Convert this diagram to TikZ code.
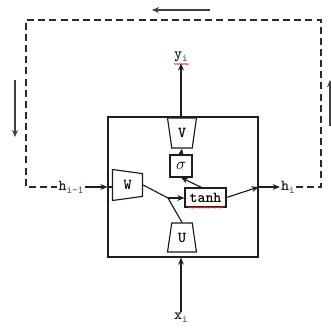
\documentclass[tikz,border=0pt]{standalone}
\usetikzlibrary{positioning,arrows.meta,shapes.geometric,decorations.pathmorphing}
\definecolor{cInk}{HTML}{1E1E1E}
\definecolor{cSub}{HTML}{3C5A96}
\definecolor{cLoop}{HTML}{2A2A2A}
\definecolor{cSpell}{HTML}{E0303A}
\tikzset{
  wire/.style={draw=cInk, line width=1pt, -{Stealth[length=6pt,width=5pt]}},
  plain/.style={draw=cInk, line width=1pt},
  loop/.style={draw=cLoop, line width=1.1pt, dash pattern=on 6pt off 3.5pt},
  hint/.style={draw=cInk!85, line width=0.9pt, -{Stealth[length=6pt,width=5pt]}},
  gate/.style={draw=cInk, line width=1pt, shape=trapezium, trapezium stretches=true,
    inner sep=0pt, font=\ttfamily\bfseries\fontsize{13}{15}\selectfont},
  cellbox/.style={draw=cInk, line width=1pt, inner sep=0pt,
    font=\ttfamily\bfseries\fontsize{13}{15}\selectfont},
  lbl/.style={inner sep=1pt, font=\ttfamily\bfseries\fontsize{13}{15}\selectfont, text=cInk},
  spell/.style={draw=cSpell, line width=0.5pt, decorate,
    decoration={snake, amplitude=0.5pt, segment length=2pt}},
}
\newcommand{\sub}[1]{\raisebox{-0.45ex}{\fontsize{9}{10}\selectfont\color{cSub}#1}}

\begin{document}
\begin{tikzpicture}[x=0.03cm, y=-0.03cm]
  \useasboundingbox (0,0) rectangle (331,328);
  % the cell
  \node[cellbox, minimum width=4.5cm, minimum height=4.2cm] (cell) at (183,187) {};
  \node[gate, shape border rotate=180, minimum width=0.87cm, minimum height=0.9cm,
    trapezium angle=80] (V) at (182,133) {V};
  \node[cellbox, minimum width=0.66cm, minimum height=0.66cm] (sig) at (181,166) {\Large$\sigma$};
  \node[gate, shape border rotate=270, minimum width=0.93cm, minimum height=0.9cm,
    trapezium angle=78] (W) at (127.5,185) {W};
  \node[cellbox, minimum width=1.23cm, minimum height=0.57cm] (tanh) at (205.5,197.5) {tanh};
  \node[gate, minimum width=0.87cm, minimum height=0.87cm,
    trapezium angle=80] (U) at (182,237.5) {U};
  \coordinate (join) at (168,198);
  % labels
  \node[lbl] (ylab) at (181,57) {y\sub{i}};
  \node[lbl] (xlab) at (181,318) {x\sub{i}};
  \node[lbl] (hprev) at (71,187) {h\sub{i-1}};
  \node[lbl] (hcur) at (288,187) {h\sub{i}};
  \draw[spell] (174,64) -- (189,64);
  \draw[spell] (188,207.5) -- (223,207.5);
  % connectors
  \draw[plain] (W.east) -- (join);
  \draw[plain] (U.north) -- (join);
  \draw[wire] (join) -- (tanh.west |- join);
  \draw[wire] (tanh.north west) ++(17,0) coordinate (tup) (tup) -- (sig.south);
  \draw[wire] (sig.north) -- (V.south);
  \draw[wire] (tanh.east) -- (cell.east);
  \draw[wire] (cell.east) -- (hcur.west);
  \draw[wire] (hprev.east) -- (hprev -| cell.west);
  \draw[plain] (hprev -| cell.west) -- (W.west |- hprev);
  \draw[wire] (cell.north -| ylab) -- (ylab.south);
  \draw[wire] (xlab.north) -- (xlab |- cell.south);
  % recurrence
  \coordinate (tr) at (321,20);
  \coordinate (tl) at (26,20);
  \draw[loop] (hcur.east) -| (tr) -- (tl) |- (hprev.west);
  \coordinate (ta) at (210,10);
  \coordinate (tb) at (152,10);
  \coordinate (la) at (15,80);
  \coordinate (lb) at (15,137);
  \coordinate (ra) at (330,126);
  \coordinate (rb) at (330,80);
  \draw[hint] (ta) -- (tb);
  \draw[hint] (la) -- (lb);
  \draw[hint] (ra) -- (rb);
\end{tikzpicture}
\end{document}
